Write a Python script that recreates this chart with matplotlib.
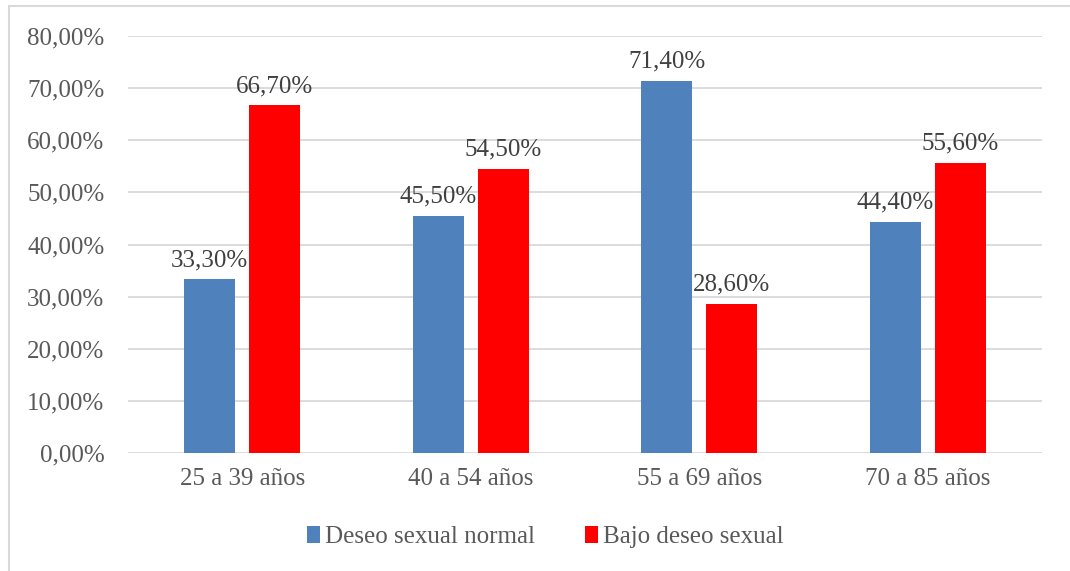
import matplotlib
matplotlib.use("Agg")
import matplotlib.pyplot as plt
from matplotlib.patches import Rectangle
import numpy as np

categories = ["25 a 39 años", "40 a 54 años", "55 a 69 años", "70 a 85 años"]
normal = [33.3, 45.5, 71.4, 44.4]
bajo = [66.7, 54.5, 28.6, 55.6]
series_names = ["Deseo sexual normal", "Bajo deseo sexual"]
colors = ["#4F81BD", "#FF0000"]
yticks = [0, 10, 20, 30, 40, 50, 60, 70, 80]

plt.rcParams['font.family'] = ['Liberation Serif', 'DejaVu Serif']
text_color = "#595959"
fs = 18

fig = plt.figure(figsize=(10.70, 5.71), dpi=100)
# outer chart border
fig.patches.append(Rectangle((9 / 1070, -0.1), 1.2, 1 - 6 / 571 + 0.1,
                             transform=fig.transFigure, fill=False,
                             edgecolor="#D9D9D9", linewidth=1.5))

ax = fig.add_axes([128 / 1070, 1 - 453 / 571, (1042 - 128) / 1070, (453 - 36) / 571])

x = np.arange(len(categories))
w = 0.223
gap = 0.061
off = (w + gap) / 2
b1 = ax.bar(x - off, normal, w, color=colors[0], label=series_names[0], zorder=3)
b2 = ax.bar(x + off, bajo, w, color=colors[1], label=series_names[1], zorder=3)

def fmt(v):
    return f"{v:.2f}".replace(".", ",") + "%"

for bars, vals in ((b1, normal), (b2, bajo)):
    for r, v in zip(bars, vals):
        ax.annotate(fmt(v), (r.get_x() + r.get_width() / 2, v),
                    xytext=(0, 6), textcoords="offset points",
                    ha="center", va="bottom", fontsize=fs, color="#404040")

ax.set_xlim(-0.5, 3.5)
ax.set_ylim(0, 80)
ax.set_yticks(yticks)
ax.set_yticklabels([fmt(t) for t in yticks])
ax.set_xticks(x)
ax.set_xticklabels(categories)
ax.tick_params(axis="both", length=0, labelsize=fs, colors=text_color)
ax.tick_params(axis="y", pad=17)
ax.tick_params(axis="x", pad=11)
ax.yaxis.grid(True, color="#D9D9D9", linewidth=1.3, zorder=0)
for s in ax.spines.values():
    s.set_visible(False)

leg = fig.legend(handles=[b1, b2], labels=series_names, loc="center",
                 bbox_to_anchor=(545 / 1070, 1 - 537 / 571),
                 ncol=2, frameon=False, fontsize=fs, handlelength=0.52,
                 handleheight=0.7, handletextpad=0.2, columnspacing=2.0)
for t in leg.get_texts():
    t.set_color(text_color)

fig.savefig("out.png", dpi=100)
